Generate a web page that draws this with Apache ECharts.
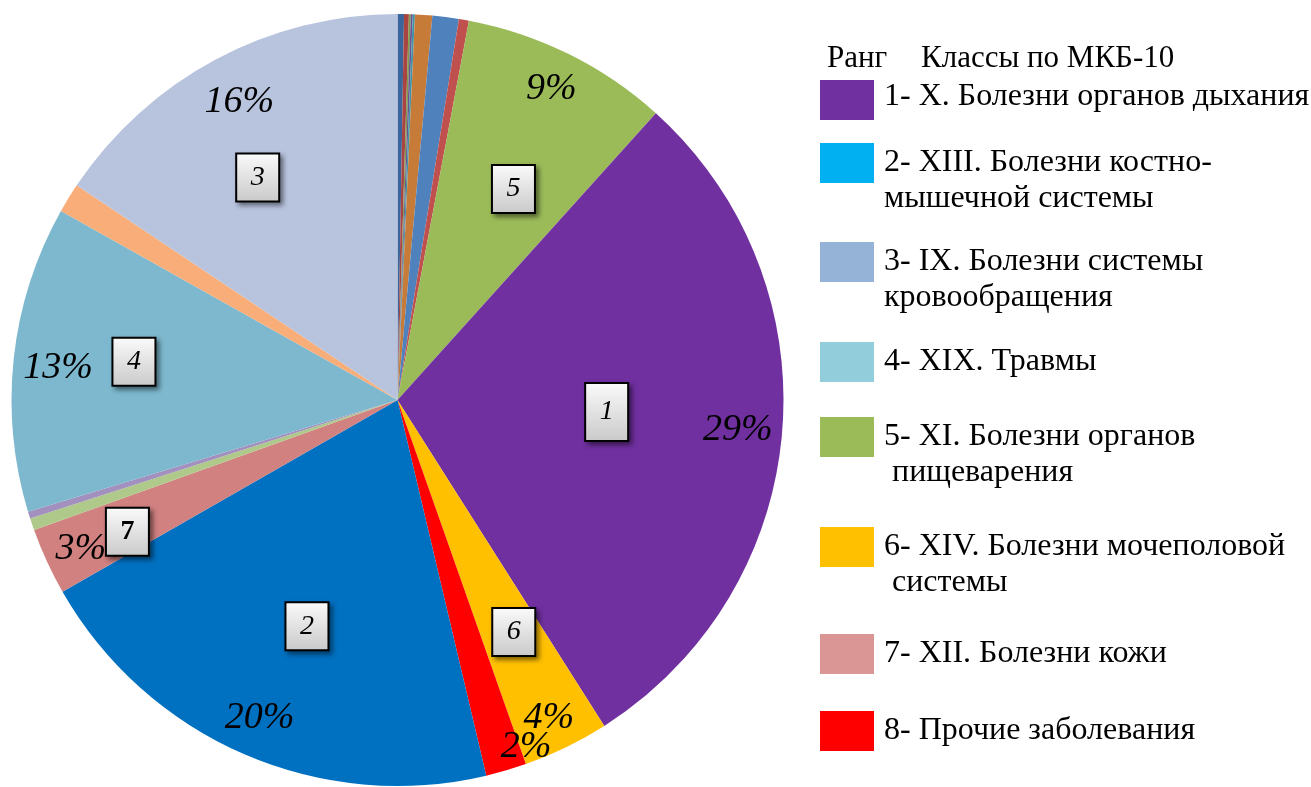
<!DOCTYPE html>
<html>
<head>
<meta charset="utf-8">
<script src="https://cdn.jsdelivr.net/npm/echarts@6/dist/echarts.min.js"></script>
<style>
html,body{margin:0;padding:0;background:#fff;}
#chart{width:1311px;height:787px;}
</style>
</head>
<body>
<div id="chart"></div>
<script>
// доли классов по часовой стрелке от 12 часов, %
var sliceNames = ['III','IV','V','VI','VII','VIII','XVIII','XVII',
	'XI. Болезни органов пищеварения','X. Болезни органов дыхания','XIV. Болезни мочеполовой системы',
	'Прочие заболевания','XIII. Болезни костно-мышечной системы','XII. Болезни кожи',
	'II','I','XIX. Травмы','XV','IX. Болезни системы кровообращения'];
var sliceValues = [0.27, 0.2, 0.08, 0.08, 0.09, 0.72, 1.1, 0.42,
	8.7, 29.3, 3.6, 1.7, 20.4, 2.8, 0.5, 0.3, 12.8, 1.24, 15.6];
var sliceColors = ['#3B669C','#A94442','#7E9A4A','#6A5390','#3F94AA','#C77B39','#4F81BD','#C0504D',
	'#9BBB59','#7030A0','#FFC000','#FF0000','#0070C0','#D08180','#AFC98A','#A290BF','#7DB8CE','#F9AE7A','#B8C4DE'];
// ранг (номер в рамке) для крупных секторов
var sliceRanks = [null,null,null,null,null,null,null,null, 5,1,6,null,2,7,null,null,4,null,3];
// проценты подписываются у этих секторов
var showPercent = [false,false,false,false,false,false,false,false, true,true,true,true,true,true,false,false,true,false,true];

var legendTitle = ['Ранг', 'Классы по МКБ-10'];
var legendLabels = [
	['1- X. Болезни органов дыхания'],
	['2- XIII. Болезни костно-', 'мышечной системы'],
	['3- IX. Болезни системы', 'кровообращения'],
	['4- XIX. Травмы'],
	['5- XI. Болезни органов', ' пищеварения'],
	['6- XIV. Болезни мочеполовой', ' системы'],
	['7- XII. Болезни кожи'],
	['8- Прочие заболевания']
];
var legendColors = ['#7030A0','#00B0F0','#95B3D7','#92CDDC','#9BBB59','#FFC000','#DA9694','#FF0000'];
var legendTops = [80, 143, 242, 342, 417, 527, 634, 711];

var FONT = '"Liberation Serif", "Times New Roman", serif';
var CX = 397.5, CY = 400, R = 386;

// сдвиги подписей относительно стандартного положения
var pctShift = {11: [31, 15], 9: [-5, 1], 10: [0, 6], 18: [5, 8], 16: [5, 6], 13: [-2, 4]};
var boxShift = {9: [-40, -9], 8: [5, 13], 18: [-22, -2], 16: [-15, -11], 12: [9, -3], 10: [7, 7], 13: [-43, 27]};

var mainData = [], pctData = [], boxData = [];
for (var i = 0; i < sliceValues.length; i++) {
	mainData.push({name: sliceNames[i], value: sliceValues[i], itemStyle: {color: sliceColors[i]}});
	pctData.push({name: sliceNames[i], value: sliceValues[i], label: {show: showPercent[i]}});
	var bd = {name: sliceNames[i], value: sliceValues[i], label: {show: sliceRanks[i] != null}};
	if (sliceRanks[i] == 7) {
		bd.label.fontStyle = 'normal';
		bd.label.fontWeight = 'bold';
	}
	if (sliceRanks[i] == 1) {
		bd.label.padding = [13, 12, 13, 12];
	}
	boxData.push(bd);
}

var graphic = [];
graphic.push({type: 'text', x: 827, y: 59, style: {text: legendTitle[0], font: '31px ' + FONT, fill: '#000', verticalAlign: 'middle'}});
graphic.push({type: 'text', x: 921, y: 59, style: {text: legendTitle[1], font: '31px ' + FONT, fill: '#000', verticalAlign: 'middle'}});
for (var k = 0; k < legendLabels.length; k++) {
	var itemTop = legendTops[k];
	graphic.push({type: 'rect', x: 820, y: itemTop, shape: {width: 54, height: 40}, style: {fill: legendColors[k]}});
	for (var j = 0; j < legendLabels[k].length; j++) {
		graphic.push({type: 'text', x: 884, y: itemTop + (k == 0 ? 17 : 20) + j * 36,
			style: {text: legendLabels[k][j], font: '32px ' + FONT, fill: '#000', verticalAlign: 'middle'}});
	}
}

var chart = echarts.init(document.getElementById('chart'));
var option = {
	animation: false,
	backgroundColor: '#fff',
	graphic: graphic,
	series: [
		{
			type: 'pie',
			center: [CX, CY],
			radius: R,
			startAngle: 90,
			silent: true,
			label: {show: false},
			labelLine: {show: false},
			data: mainData
		},
		{ // проценты
			type: 'pie',
			center: [CX, CY],
			radius: [R * 0.78, R],
			startAngle: 90,
			silent: true,
			avoidLabelOverlap: false,
			itemStyle: {color: 'rgba(0,0,0,0)'},
			label: {
				position: 'inside',
				color: '#000',
				fontFamily: FONT,
				fontStyle: 'italic',
				fontSize: 38,
				formatter: function (p) { return Math.round(p.percent) + '%'; }
			},
			labelLine: {show: false},
			labelLayout: function (p) {
				var s = pctShift[p.dataIndex];
				return s ? {dx: s[0], dy: s[1]} : {};
			},
			data: pctData
		},
		{ // номера рангов в рамках
			type: 'pie',
			center: [CX, CY],
			radius: [R * 0.28, R],
			startAngle: 90,
			silent: true,
			avoidLabelOverlap: false,
			itemStyle: {color: 'rgba(0,0,0,0)'},
			label: {
				position: 'inside',
				color: '#000',
				fontFamily: FONT,
				fontStyle: 'italic',
				fontSize: 28,
				width: 17,
				height: 30,
				lineHeight: 30,
				align: 'center',
				padding: [8, 12, 8, 12],
				backgroundColor: {
					type: 'linear', x: 0, y: 0, x2: 0, y2: 1,
					colorStops: [{offset: 0, color: '#fbfbfb'}, {offset: 1, color: '#c9c9c9'}]
				},
				borderColor: '#000',
				borderWidth: 2,
				shadowColor: 'rgba(0,0,0,0.45)',
				shadowBlur: 5,
				shadowOffsetX: 3,
				shadowOffsetY: 3,
				formatter: function (p) { return String(sliceRanks[p.dataIndex]); }
			},
			labelLine: {show: false},
			labelLayout: function (p) {
				var s = boxShift[p.dataIndex];
				return s ? {dx: s[0], dy: s[1]} : {};
			},
			data: boxData
		}
	]
};
chart.setOption(option);
</script>
</body>
</html>
